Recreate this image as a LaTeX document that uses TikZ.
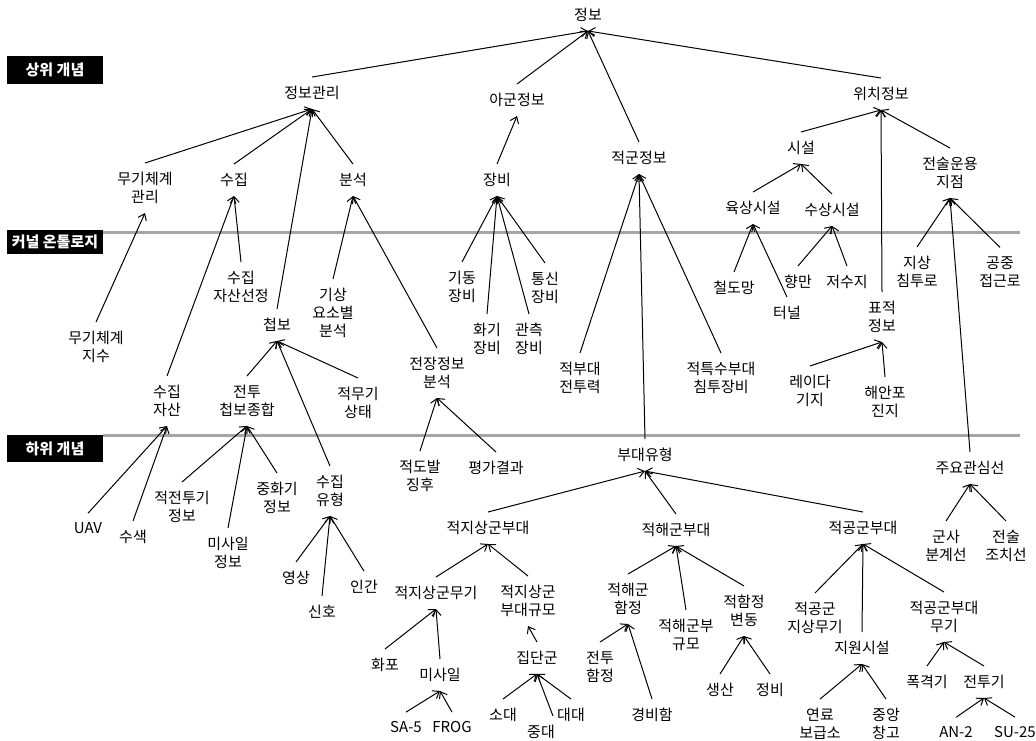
\documentclass[tikz,border=0pt]{standalone}
\usepackage{fontspec}
\setmainfont{Noto Sans CJK KR}
\usetikzlibrary{arrows.meta}
\begin{document}
\begin{tikzpicture}[x=1pt,y=-1pt,
  lbl/.style={font=\fontsize{15}{18}\selectfont, align=center, inner xsep=1pt, inner ysep=9pt},
  con/.style={line width=1pt, -{Straight Barb[length=6pt,width=9pt,line width=1pt]}},
  hdr/.style={fill=black, text=white, font=\fontsize{15}{17}\selectfont\bfseries, minimum width=96pt, inner sep=0pt},
  band/.style={line width=3pt, draw=black!35}]
\useasboundingbox (0,0) rectangle (1036,740);
% bands
\draw[band] (103,232) -- (1020,232);
\draw[band] (103,435) -- (1020,435);
\node[hdr, minimum height=28pt] (h1) at (55,70) {상위 개념};
\node[hdr, minimum height=24pt] (h2) at (55,242) {커널 온톨로지};
\node[hdr, minimum height=27pt] (h3) at (55,448.5) {하위 개념};
% nodes
\begin{scope}[every node/.style={lbl}]
\node (n0) at (588,15) {정보};
\node (A) at (312,93) {정보관리};
\node (B) at (517,100) {아군정보};
\node (C) at (639,158) {적군정보};
\node (D) at (881,94) {위치정보};
\node (A1) at (145,188) {무기체계\\관리};
\node (A2) at (234,180) {수집};
\node (A3) at (353,180) {분석};
\node (A4) at (277,325) {첩보};
\node (B1) at (497,180) {장비};
\node (D1) at (801,148) {시설};
\node (D2) at (950,173) {전술운용\\지점};
\node (D3) at (882,317) {표적\\정보};
\node (D11) at (753,208) {육상시설};
\node (D12) at (832,210) {수상시설};
\node (D111) at (734,288) {철도망};
\node (D112) at (787,313) {터널};
\node (D121) at (798,282) {향만};
\node (D122) at (847,282) {저수지};
\node (D21) at (917,272) {지상\\침투로};
\node (D22) at (1000,272) {공중\\접근로};
\node (D23) at (970,468) {주요관심선};
\node (D231) at (946,546) {군사\\분계선};
\node (D232) at (1006,546) {전술\\조치선};
\node (D31) at (810,391) {레이다\\기지};
\node (D32) at (885,402) {해안포\\진지};
\node (A11) at (96,347) {무기체계\\지수};
\node (A21) at (241,287) {수집\\자산선정};
\node (A22) at (167,401) {수집\\자산};
\node (A221) at (88,528) {UAV};
\node (A222) at (133,537) {수색};
\node (A31) at (333,313) {기상\\요소별\\분석};
\node (A32) at (437,373) {전장정보\\분석};
\node (A321) at (420,476) {적도발\\징후};
\node (A322) at (496,468) {평가결과};
\node (A41) at (247,401) {전투\\첩보종합};
\node (A42) at (358,403) {적무기\\상태};
\node (A43) at (330,491) {수집\\유형};
\node (A411) at (182,507) {적전투기\\정보};
\node (A412) at (228,553) {미사일\\정보};
\node (A413) at (277,498) {중화기\\정보};
\node (A431) at (296,578) {영상};
\node (A432) at (322,612) {신호};
\node (A433) at (364,587) {인간};
\node (B11) at (462,287) {기동\\장비};
\node (B12) at (487,339) {화기\\장비};
\node (B13) at (529,339) {관측\\장비};
\node (B14) at (545,288) {통신\\장비};
\node (C1) at (580,378) {적부대\\전투력};
\node (C2) at (721,378) {적특수부대\\침투장비};
\node (C3) at (645,455) {부대유형};
\node (C31) at (488,528) {적지상군부대};
\node (C32) at (676,530) {적해군부대};
\node (C33) at (863,528) {적공군부대};
\node (C311) at (436,593) {적지상군무기};
\node (C312) at (528,601) {적지상군\\부대규모};
\node (C3111) at (385,665) {화포};
\node (C3112) at (440,675) {미사일};
\node (C31121) at (406,727) {SA-5};
\node (C31122) at (452,727) {FROG};
\node (C3121) at (537,658) {집단군};
\node (so) at (503,715) {소대};
\node (jung) at (541,732) {중대};
\node (dae) at (571,715) {대대};
\node (C321) at (628,599) {적해군\\함정};
\node (C322) at (686,635) {적해군부\\규모};
\node (C323) at (744,611) {적함정\\변동};
\node (C3211) at (600,667) {전투\\함정};
\node (C3212) at (652,715) {경비함};
\node (C3231) at (720,690) {생산};
\node (C3232) at (770,690) {정비};
\node (C331) at (815,618) {적공군\\지상무기};
\node (C332) at (862,648) {지원시설};
\node (C333) at (944,617) {적공군부대\\무기};
\node (C3321) at (820,724) {연료\\보급소};
\node (C3322) at (886,724) {중앙\\창고};
\node (C3331) at (927,682) {폭격기};
\node (C3332) at (984,682) {전투기};
\node (C33321) at (956,732) {AN-2};
\node (C33322) at (1015,732) {SU-25};
\end{scope}
% connectors child -> parent
\foreach \c/\p in {A/n0,B/n0,C/n0,D/n0,
  A1/A,A2/A,A3/A,A4/A,B1/B,D1/D,D2/D,D3/D,
  D11/D1,D12/D1,D111/D11,D112/D11,D121/D12,D122/D12,
  D21/D2,D22/D2,D23/D2,D231/D23,D232/D23,D31/D3,D32/D3,
  A11/A1,A21/A2,A22/A2,A221/A22,A222/A22,A31/A3,A32/A3,A321/A32,A322/A32,
  A41/A4,A42/A4,A43/A4,A411/A41,A412/A41,A413/A41,A431/A43,A432/A43,A433/A43,
  B11/B1,B12/B1,B13/B1,B14/B1,C1/C,C2/C,C3/C,
  C31/C3,C32/C3,C33/C3,C311/C31,C312/C31,C3111/C311,C3112/C311,
  C31121/C3112,C31122/C3112,C3121/C312,so/C3121,dae/C3121,
  C321/C32,C322/C32,C323/C32,C3211/C321,C3212/C321,C3231/C323,C3232/C323,
  C331/C33,C332/C33,C333/C33,C3321/C332,C3322/C332,C3331/C333,C3332/C333,
  C33321/C3332,C33322/C3332}
  \draw[con] (\c.north) -- (\p.south);
\draw[con] ([xshift=12pt]jung.north) -- (C3121.south);
\end{tikzpicture}
\end{document}
